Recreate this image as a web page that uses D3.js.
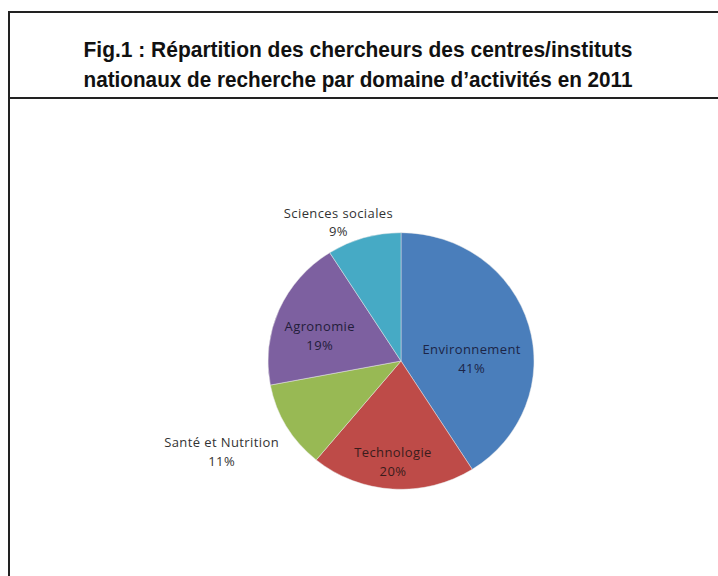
<!DOCTYPE html>
<html>
<head>
<meta charset="utf-8">
<script src="https://cdn.jsdelivr.net/npm/d3@7"></script>
<style>
  body { margin: 0; background: #fff; }
  svg { display: block; }
</style>
</head>
<body>
<svg width="718" height="576"></svg>
<script>
// data
var domaines = ["Environnement", "Technologie", "Santé et Nutrition", "Agronomie", "Sciences sociales"];
var parts = [41, 20, 11, 19, 9];
var couleurs = ["#4a7ebb", "#be4b48", "#98b954", "#7d60a0", "#46aac5"];
var titre = ["Fig.1 : Répartition des chercheurs  des centres/instituts",
             "nationaux de recherche par domaine d’activités en 2011"];

var svg = d3.select("svg");

// cadre
svg.append("path")
   .attr("d", "M9,580 V12 H720 M9,98 H720")
   .attr("fill", "none")
   .attr("stroke", "#222")
   .attr("stroke-width", 2);

svg.selectAll(".titre")
   .data(titre)
   .enter().append("text")
   .attr("class", "titre")
   .attr("x", 358)
   .attr("y", function(d, i) { return 57 + i * 30; })
   .attr("text-anchor", "middle")
   .attr("textLength", 549)
   .attr("lengthAdjust", "spacingAndGlyphs")
   .style("font-family", "'Liberation Sans Narrow', 'Liberation Sans', Arial, sans-serif")
   .style("font-weight", "bold")
   .style("font-size", "22px")
   .style("fill", "#111")
   .text(function(d) { return d; });

var cx = 401, cy = 361, r = 133, sy = 0.965;
var g = svg.append("g")
           .attr("transform", "translate(" + cx + "," + cy + ") scale(1," + sy + ")");

var pie = d3.pie().sort(null).value(function(d) { return d; });
var arcs = pie(parts);
var arc = d3.arc().innerRadius(0).outerRadius(r);

g.selectAll(".slice")
 .data(arcs)
 .enter().append("path")
 .attr("class", "slice")
 .attr("d", arc)
 .attr("fill", function(d, i) { return couleurs[i]; })
 .attr("stroke", "#e8e8e8")
 .attr("stroke-width", 0.5);

// etiquettes : rayon relatif + petit decalage (comme Excel)
var labelRadius = [0.6, 0.6, 1.2, 0.6, 1.2];
var labelShift = [[-6, 17], [-3, 22], [-42, 10], [-8, 3], [-18, 7]];
var labelColor = ["#1c2547", "#3a1c1c", "#333", "#231d3a", "#333"];

var labels = svg.selectAll(".lab")
   .data(arcs)
   .enter().append("text")
   .attr("class", "lab")
   .attr("text-anchor", "middle")
   .style("font-family", "'Open Sans', 'DejaVu Sans', sans-serif")
   .style("font-size", "13px")
   .style("letter-spacing", "0.4px")
   .style("fill", function(d, i) { return labelColor[i]; })
   .attr("transform", function(d, i) {
       var a = (d.startAngle + d.endAngle) / 2;
       var rr = r * labelRadius[i];
       var x = cx + Math.sin(a) * rr + labelShift[i][0];
       var y = cy - Math.cos(a) * rr * sy + labelShift[i][1];
       return "translate(" + x + "," + y + ")";
   });

labels.append("tspan")
      .attr("x", 0)
      .attr("dy", "-0.2em")
      .text(function(d, i) { return domaines[i]; });
labels.append("tspan")
      .attr("x", 0)
      .attr("dy", "1.45em")
      .text(function(d) { return d.data + "%"; });
</script>
</body>
</html>
